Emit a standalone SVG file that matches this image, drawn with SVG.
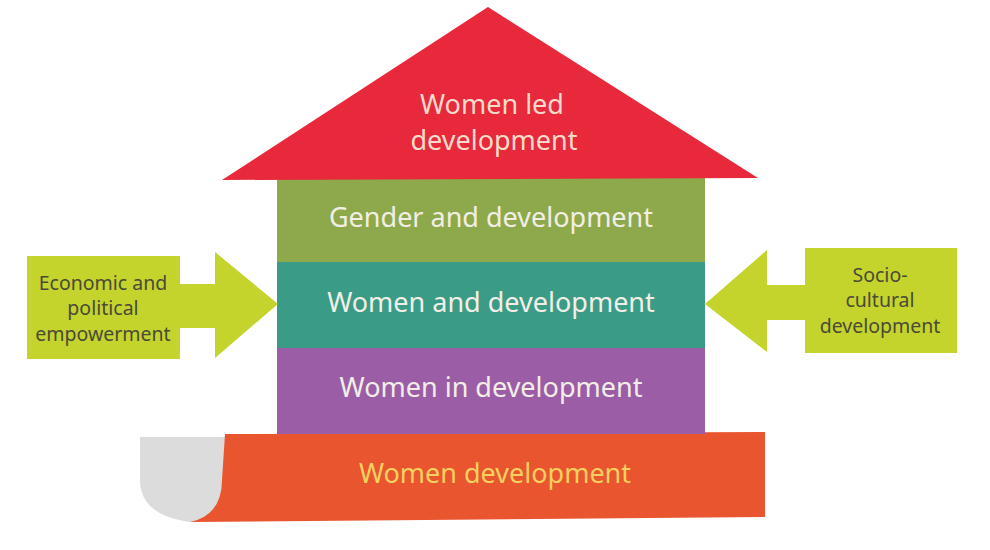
<svg xmlns="http://www.w3.org/2000/svg" width="990" height="550" viewBox="0 0 990 550">
<style>
.band{font-family:"Noto Sans","Open Sans",sans-serif;font-size:27px;text-anchor:middle}
.side{font-family:"Noto Sans","Open Sans",sans-serif;font-size:19.5px;text-anchor:middle;fill:#4a4a38}
.arrow{fill:#c4d42c}
</style>
<rect width="990" height="550" fill="#ffffff"/>
<g id="base">
<path d="M140,437 L225,437 L225,480 Q222,515 190,522 Q140,515 140,480 Z" fill="#dcdcdc"/>
<path d="M225,434 L765,432 L765,517 L190,522 Q222,515 222,480 Z" fill="#e9552f"/>
<text class="band" x="495" y="483" fill="#f5d060">Women development</text>
</g>
<g id="women-in-development">
<rect x="277" y="348" width="428" height="86" fill="#9b5ea6"/>
<text class="band" x="491" y="397" fill="#f2eee6">Women in development</text>
</g>
<g id="women-and-development">
<rect x="277" y="262" width="428" height="86" fill="#3a9c86"/>
<text class="band" x="491" y="312" fill="#f2eee6">Women and development</text>
</g>
<g id="gender-and-development">
<rect x="277" y="177" width="428" height="85" fill="#8ea94b"/>
<text class="band" x="491" y="227" fill="#f2eee6">Gender and development</text>
</g>
<g id="women-led-development">
<polygon points="488,7 758,178 222,180" fill="#e8283b"/>
<text class="band" x="492" y="114" fill="#f8dccb">Women led</text>
<text class="band" x="494" y="150" fill="#f8dccb">development</text>
</g>
<g id="connectors">
<polygon class="arrow" points="180,284 215,284 215,252 278,304 215,358 215,328 180,328"/>
<polygon class="arrow" points="805,285 767,285 767,250 705,304 767,352 767,320 805,320"/>
</g>
<g id="economic-and-political-empowerment">
<rect class="arrow" x="27" y="256" width="153" height="103"/>
<text class="side" x="103" y="290">Economic and</text>
<text class="side" x="103" y="315">political</text>
<text class="side" x="103" y="341">empowerment</text>
</g>
<g id="socio-cultural-development">
<rect class="arrow" x="805" y="248" width="152" height="105"/>
<text class="side" x="880" y="282">Socio-</text>
<text class="side" x="880" y="307">cultural</text>
<text class="side" x="880" y="333">development</text>
</g>
</svg>
